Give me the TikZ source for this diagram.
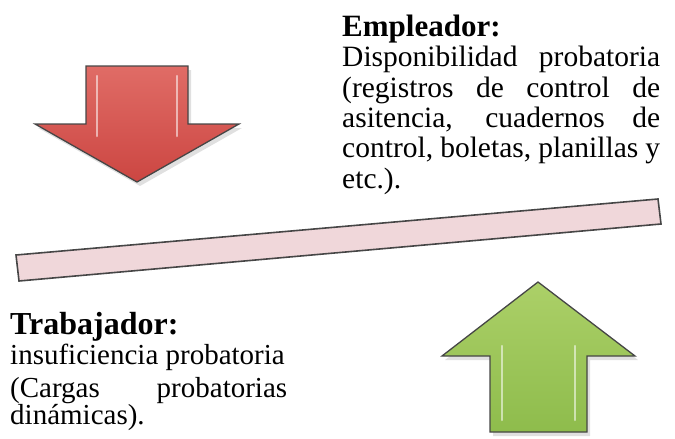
\documentclass[tikz,border=0pt]{standalone}
\usepackage{fontspec}
\setmainfont{Liberation Serif}
\usepackage{xcolor}
\usetikzlibrary{positioning}

\definecolor{rojoflecha}{RGB}{204,70,66}
\definecolor{rojoclaro}{RGB}{224,108,102}
\definecolor{verdeflecha}{RGB}{142,188,76}
\definecolor{verdeclaro}{RGB}{172,208,104}
\definecolor{rosaviga}{RGB}{240,215,218}
\definecolor{bordegris}{RGB}{70,70,70}

\hbadness=10000
\hfuzz=2pt

\begin{document}
\begin{tikzpicture}[x=1pt,y=-1pt,
        flecha/.style={draw=bordegris, line width=1.3pt, line join=miter},
        brillo/.style={white, opacity=0.55, line width=2.5pt, line cap=round},
        texto/.style={inner sep=0pt, anchor=base west, align=justify}]
        \useasboundingbox (0,0) rectangle (675,439);
        % sombras
        \fill[black, opacity=0.12] (89,70) -- (191,70) -- (191,128) -- (242,128) -- (140,186) -- (38,128) -- (89,128) -- cycle;
        \fill[black, opacity=0.12] (493,436) -- (590,436) -- (590,360) -- (638,360) -- (541,286) -- (445,360) -- (493,360) -- cycle;
        % flecha roja
        \draw[flecha, top color=rojoclaro, bottom color=rojoflecha] (86,66) -- (188,66) -- (188,124) -- (239,124) -- (137,182) -- (35,124) -- (86,124) -- cycle;
        \draw[brillo] (97,76) -- (97,136);
        \draw[brillo] (177,76) -- (177,136);
        % flecha verde
        \draw[flecha, top color=verdeclaro, bottom color=verdeflecha] (490,432) -- (587,432) -- (587,356) -- (635,356) -- (538,282) -- (442,356) -- (490,356) -- cycle;
        \draw[brillo] (502,346) -- (502,420);
        \draw[brillo] (575,346) -- (575,420);
        % viga
        \draw[bordegris, line width=1.6pt, fill=rosaviga] (16,255) -- (658,199) -- (661,224) -- (19,281) -- cycle;
        % textos
        \node[texto, text width=318pt, font=\fontsize{29.5}{30.5}\selectfont] (empleador) at (342,36)
            {{\fontsize{31}{30.5}\selectfont\textbf{Empleador:}}\\ Disponibilidad probatoria\linebreak (registros de control de\linebreak asitencia, cuadernos de\linebreak control, boletas, planillas y\linebreak etc.).};
        \node[texto, text width=277pt, font=\fontsize{29}{22}\selectfont] (trabajador) at (10,334)
            {{\fontsize{32}{22}\selectfont\textbf{Trabajador:}}\\[2pt] insuficiencia probatoria\\[6pt] (Cargas probatorias\linebreak dinámicas).};
\end{tikzpicture}
\end{document}
